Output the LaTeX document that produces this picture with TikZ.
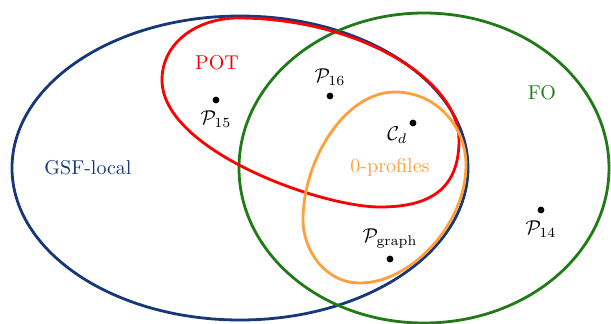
\documentclass[tikz,border=0pt]{standalone}
\usepackage{amsmath,amssymb}
\usepackage{xcolor}
\usepackage{tikz}
\usetikzlibrary{positioning}

\definecolor{gsfblue}{RGB}{22,56,120}
\definecolor{fogreen}{RGB}{32,122,22}
\definecolor{zeroorange}{RGB}{255,160,60}

\begin{document}
\begin{tikzpicture}[x=0.5pt, y=-0.5pt, every node/.style={align=center},
  pt/.style={circle, fill, inner sep=0pt, minimum size=3.4pt},
  set/.style={line width=1.4pt}]
\useasboundingbox (0,0) rectangle (611,323);
% the four classes
\draw[set, gsfblue] (240,168) ellipse [x radius=228, y radius=152];
\draw[set, fogreen] (424,168) ellipse [x radius=185, y radius=155];
\draw[set, red] (238,18) .. controls (355,18) and (459,78) .. (459,140)
  .. controls (459,185) and (435,207) .. (380,207)
  .. controls (320,207) and (162,150) .. (162,80)
  .. controls (162,42) and (198,18) .. cycle;
\draw[set, zeroorange] (395,92) .. controls (435,92) and (466,125) .. (466,165)
  .. controls (466,225) and (410,283) .. (360,283)
  .. controls (325,283) and (303,250) .. (303,220)
  .. controls (303,160) and (345,92) .. cycle;
% names of the classes
\node[text=gsfblue] (gsf) at (88,168) {GSF-local};
\node[text=fogreen] (fo) at (542,93) {FO};
\node[text=red] (pot) at (217,63) {POT};
\node[text=zeroorange] (zero) at (390,167) {0-profiles};
% the points
\node[pt] (p15) at (216,100) {};
\node[below=0pt of p15] (p15l) {$\mathcal{P}_{15}$};
\node[pt] (p16) at (330,96) {};
\node[above=0pt of p16] (p16l) {$\mathcal{P}_{16}$};
\node[pt] (cd) at (413,123) {};
\node[below left=-3pt and -2pt of cd] (cdl) {$\mathcal{C}_d$};
\node[pt] (p14) at (541,210) {};
\node[below=0pt of p14] (p14l) {$\mathcal{P}_{14}$};
\node[pt] (pg) at (390,259) {};
\node[above=0pt of pg] (pgl) {$\mathcal{P}_{\mathrm{graph}}$};
\end{tikzpicture}
\end{document}
